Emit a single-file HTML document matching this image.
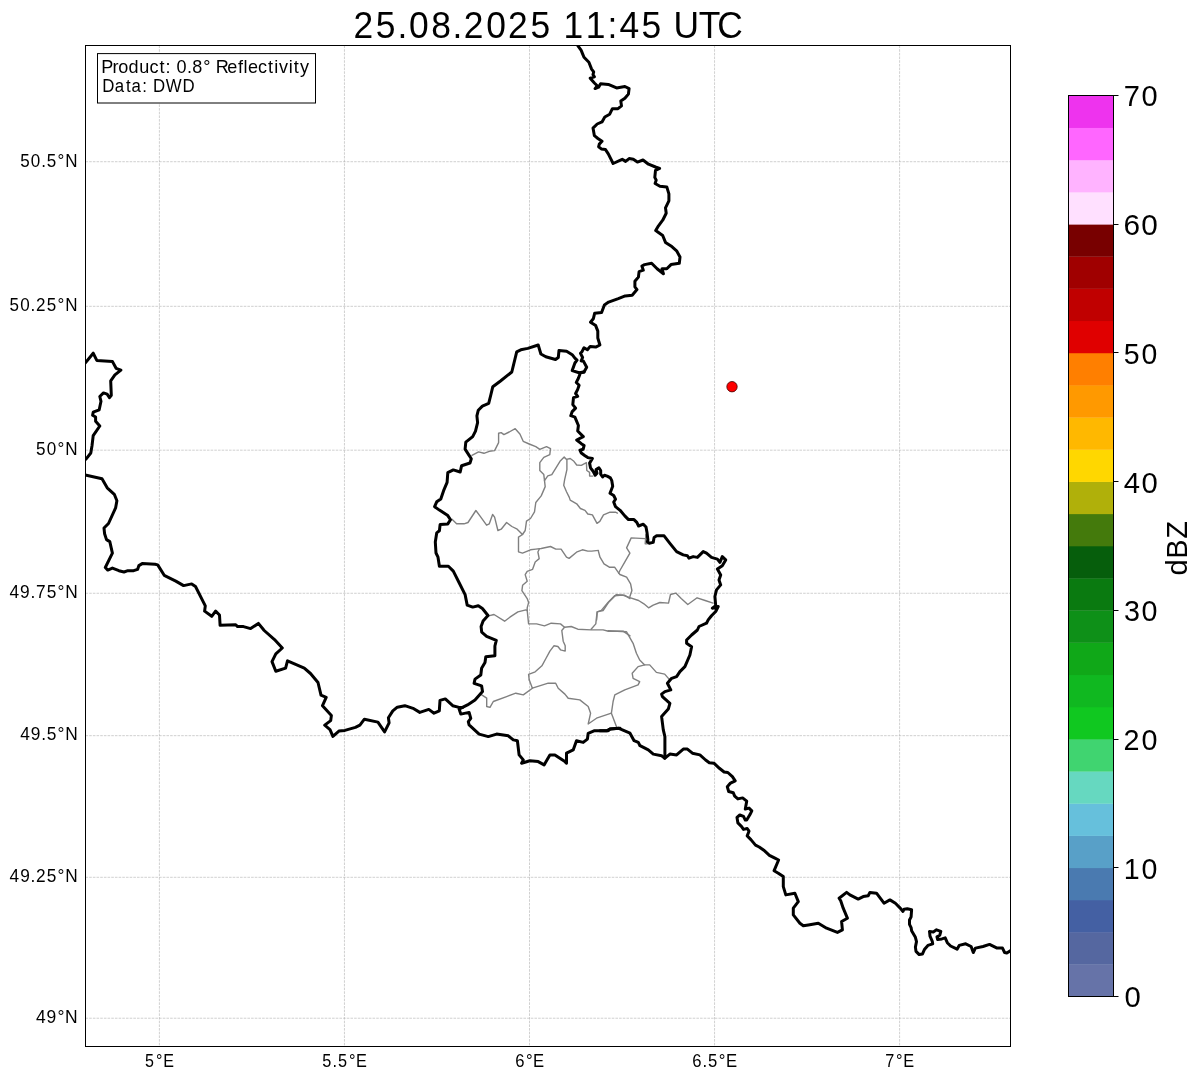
<!DOCTYPE html>
<html><head><meta charset="utf-8"><style>
html,body{margin:0;padding:0;background:#fff;}
svg{display:block;will-change:transform;}
text{font-family:"Liberation Sans",sans-serif;fill:#000;}
</style></head><body>
<svg width="1202" height="1081" viewBox="0 0 1202 1081">
<defs><clipPath id="ax"><rect x="85.5" y="45.4" width="925" height="1000.8"/></clipPath></defs>
<rect width="1202" height="1081" fill="#fff"/>
<g clip-path="url(#ax)">
<g stroke="#b0b0b0" stroke-width="0.6" stroke-dasharray="2.57 1.11" fill="none">
<line x1="85.5" y1="161.71" x2="1010.5" y2="161.71"/>
<line x1="85.5" y1="306.32" x2="1010.5" y2="306.32"/>
<line x1="85.5" y1="450.18" x2="1010.5" y2="450.18"/>
<line x1="85.5" y1="593.28" x2="1010.5" y2="593.28"/>
<line x1="85.5" y1="735.66" x2="1010.5" y2="735.66"/>
<line x1="85.5" y1="877.30" x2="1010.5" y2="877.30"/>
<line x1="85.5" y1="1018.23" x2="1010.5" y2="1018.23"/>
<line x1="159.40" y1="45.5" x2="159.40" y2="1046.2"/>
<line x1="344.45" y1="45.5" x2="344.45" y2="1046.2"/>
<line x1="529.50" y1="45.5" x2="529.50" y2="1046.2"/>
<line x1="714.55" y1="45.5" x2="714.55" y2="1046.2"/>
<line x1="899.60" y1="45.5" x2="899.60" y2="1046.2"/>
</g>
<g stroke="#808080" stroke-width="1.4" fill="none" stroke-linejoin="round" stroke-linecap="round">
<polyline points="471.9,455.3 478.6,451.9 483.9,453.3 489.3,451.3 494.6,450.6 498.6,442.6 498.6,433.3 501.2,432.6 503.9,434.6 509.2,432.0 515.2,428.7 519.9,434.0 523.2,441.3 529.2,444.0 535.8,446.6 539.8,449.3 546.5,446.6 550.5,448.6 549.8,454.6 543.8,457.3 539.8,462.6 539.8,470.6 543.8,474.6 544.5,480.6 545.2,486.6 541.2,495.9 535.8,502.5 534.5,511.8 530.5,518.5 526.5,521.2 525.2,530.5 522.5,534.5"/>
<polyline points="452.0,519.2 456.6,523.8 464.0,523.8 468.0,522.5 475.9,510.5 479.9,515.8 486.6,525.2 489.3,523.8 492.6,514.5 494.6,517.2 497.9,530.5 501.2,529.2 506.6,522.5 511.9,526.5 517.2,529.2 522.5,534.5 518.5,537.1 518.5,551.8 522.5,553.1 530.5,549.8 535.8,549.1 541.2,548.5 550.5,546.5 555.8,549.1 561.1,549.1 566.5,557.1 569.1,558.4 577.1,551.8 582.4,549.8 587.8,551.1 591.7,551.1 598.4,550.4"/>
<polyline points="645.9,534.6 645.2,543.9 647.2,543.9 645.2,538.6 631.2,537.9 626.6,547.9 629.9,553.2 625.3,561.2 619.9,570.5 618.6,573.2"/>
<polyline points="598.4,551.2 600.0,557.2 604.0,563.9 609.3,567.2 614.6,567.2 617.9,571.8 619.9,574.5 626.6,577.2 630.6,583.8 631.9,590.5 629.9,596.5"/>
<polyline points="596.6,620.0 597.3,611.8 601.3,610.4 608.0,602.5 614.6,595.8 622.6,595.1 630.6,597.8 638.6,600.5 643.9,603.8 648.6,607.8 653.2,605.1 659.9,602.5 668.5,603.1 670.5,594.5 675.8,593.1 681.2,598.5 687.8,604.5 697.1,597.8 705.1,600.5 713.1,603.1"/>
<polyline points="488.6,615.9 494.0,614.5 504.6,621.2 509.9,617.2 517.9,611.9 525.9,609.9 527.2,610.5"/>
<polyline points="539.2,549.3 537.9,552.0 539.2,558.6 535.2,562.0 532.6,569.3 527.2,571.3 525.2,574.6 527.2,581.3 522.6,585.3 521.9,590.6 527.2,598.6 528.6,602.6 527.2,607.9 527.2,610.5 528.6,623.9 536.6,623.9 544.5,625.9 551.2,623.2 560.5,623.9 564.5,627.2 571.2,626.5 577.8,629.2 591.1,629.9 603.1,629.9 608.4,631.2 623.1,631.2 630.0,635.8"/>
<polyline points="564.5,627.2 561.8,630.5 563.2,641.2 565.2,645.8 565.2,651.1 560.5,649.8 557.9,646.5 553.9,645.8 549.9,651.1 545.9,658.5 541.9,665.8 535.2,671.8 528.6,674.4 529.2,680.0"/>
<polyline points="591.1,629.2 595.8,623.9 597.1,611.9 603.1,610.5 608.4,602.6 616.4,594.6 624.4,595.2 630.0,598.6"/>
<polyline points="529.3,679.9 532.4,688.2 548.2,683.2 555.7,683.2 558.2,688.2 564.9,694.1 568.2,698.2 579.8,699.9 588.2,706.5 590.6,713.2 588.2,724.0 596.5,718.2 611.4,713.2 616.4,726.5"/>
<polyline points="532.4,688.2 523.3,694.9 515.8,693.2 506.6,696.6 493.3,701.5 490.0,707.4 486.7,706.5 486.7,698.2 481.7,694.9"/>
<polyline points="611.4,713.2 613.1,701.5 614.8,694.9 624.8,689.9 638.1,684.9 639.7,681.6 633.1,678.3 632.2,673.3 638.1,666.6 644.7,664.9 639.7,660.0 636.4,653.3 633.1,643.3 626.4,631.7 608.1,630.8"/>
<polyline points="644.7,664.9 649.7,664.9 656.4,672.4 664.7,674.1 669.7,679.9"/>
<polyline points="566.9,459.4 566.9,469.6 564.6,479.8 563.7,485.3 566.5,491.8 569.3,497.4 570.2,500.1 576.7,503.8 580.4,508.5 585.0,510.3 587.8,514.0 592.4,514.9 597.0,523.3 599.8,521.4 603.5,514.9 610.0,512.2 615.5,512.2 617.4,513.1"/>
<polyline points="544.5,480.6 547.8,475.9 551.8,474.6 560.0,461.3 564.2,457.1 566.5,459.4 570.2,458.5 573.9,461.3 576.7,465.0 581.3,465.4 586.4,462.7 586.8,470.5 589.6,472.4 589.6,476.1 592.8,476.1"/>
</g>
<g stroke="#000" stroke-width="3" fill="none" stroke-linejoin="round" stroke-linecap="round">
<polyline points="577.8,45.6 581.2,50.4 582.6,53.9 584.0,57.3 588.9,62.2 591.6,69.1 593.7,71.9 593.0,74.7 594.4,76.8 590.2,78.2 594.4,83.0 597.2,85.8 595.1,88.6 598.6,87.2 600.6,83.7 608.3,84.4 616.6,87.9 624.9,86.5 629.1,88.6 628.4,94.1 624.9,98.3 620.8,101.1 621.5,105.9 618.0,108.7 612.4,108.7 609.7,114.2 604.8,117.0 602.0,121.9 597.2,124.0 593.0,128.1 594.4,135.7 597.9,138.5 602.0,141.3 599.3,144.1 598.6,146.8 601.3,148.9 605.5,149.6 608.3,153.8 611.7,160.7 613.1,163.5 622.2,159.3 625.6,161.4 629.1,158.6 633.3,159.3 637.4,162.1 643.0,160.0 648.5,164.2 655.5,167.0 659.6,168.4 655.5,170.4 654.8,177.4 656.2,180.1 655.1,183.5 659.9,186.2 666.8,186.9 668.9,193.9 668.9,200.8 665.5,207.8 666.2,213.3 662.7,220.2 658.5,225.8 655.7,230.6 662.7,235.5 665.5,242.4 671.0,245.9 676.6,250.8 680.0,257.0 679.3,263.3 671.0,264.6 666.8,268.8 662.0,268.8 663.4,273.7 657.1,268.8 651.6,263.3 644.6,264.6 641.9,266.0 643.3,270.2 639.1,271.6 638.4,277.1 634.9,281.3 634.9,286.8 637.0,289.6 632.2,295.2 625.2,295.9 618.3,298.6 608.6,302.1 604.4,304.9 601.6,312.5 594.7,313.2 593.3,318.8 590.5,322.2 595.7,325.6 597.8,331.1 597.8,338.0 599.9,345.0 595.7,347.1 590.2,346.4 587.4,349.8 584.0,347.8 581.9,351.9 580.5,353.3 582.6,357.5 581.2,360.9 583.3,360.9 586.7,367.2 584.0,372.0 580.5,372.7 578.4,378.3 576.3,382.4 579.1,385.2 577.7,389.4 575.6,393.5 577.7,396.3 573.5,397.7 572.8,404.6 575.6,408.1 572.2,411.6 570.8,415.7 574.9,417.1 578.4,425.5 577.7,431.0 583.3,436.6 576.7,440.0 581.3,443.7 584.1,445.6 583.1,449.3 579.9,450.2 581.3,453.0 585.0,455.7 587.8,457.6 592.4,458.5 589.6,463.1 590.5,467.8 593.3,471.5 595.2,475.2 597.0,473.3 596.1,469.6 598.9,467.8 600.7,470.5 600.7,474.2 602.6,477.0 604.4,475.2 607.2,476.1 610.4,477.9 611.8,480.7 612.7,486.3 610.0,493.2 613.7,495.5 615.5,499.2 613.7,502.0 615.5,506.6 620.1,510.3 624.8,515.9 628.5,519.6 634.0,519.6 636.8,522.3 638.6,526.0 643.3,524.2 646.0,527.0 647.0,532.5 647.9,540.0 647.4,541.6 649.1,543.3 653.2,542.4 654.1,537.4 656.6,535.8 664.1,535.8 669.9,543.3 676.6,551.6 683.2,554.9 687.4,555.7 689.0,558.2 693.2,556.6 697.4,557.4 703.2,551.6 706.5,553.2 711.5,557.4 717.4,559.1 719.9,562.4 722.3,556.6 725.7,559.9 722.3,565.7 717.4,569.1 720.7,574.9 719.0,579.9 720.7,584.9 716.5,589.9 714.9,596.5 715.7,605.7 712.4,608.2 718.2,606.5 715.7,611.5 711.5,615.7 708.2,619.9 706.5,623.2 699.0,626.5 697.4,630.0 691.6,635.0 686.6,640.0 686.6,643.3 691.6,646.7 689.9,655.0 684.9,666.6 679.9,671.6 676.6,676.6 671.6,678.3 667.4,683.3 670.8,689.9 664.9,691.6 661.6,694.1 662.4,696.6 669.9,703.3 668.3,709.1 661.6,716.6 663.3,729.9 664.9,736.6 664.9,758.2 669.9,754.1 676.6,754.9 683.3,749.1 687.4,749.1 692.4,753.2 699.9,754.9 705.6,760.0 709.3,762.8 713.9,763.2 719.4,768.3 724.1,772.0 727.8,772.5 732.4,776.7 735.2,780.8 730.5,783.1 727.3,786.8 728.7,791.5 733.3,792.8 734.7,796.1 737.9,798.9 742.6,797.9 746.7,801.2 745.3,809.0 749.0,808.1 751.8,810.9 750.0,814.6 746.7,820.1 745.3,820.1 743.5,816.4 739.8,815.0 737.0,817.4 737.9,822.9 741.6,826.6 743.5,829.4 747.2,828.5 749.0,831.2 747.2,835.9 750.9,839.6 755.5,845.1 759.2,847.0 763.8,850.2 769.4,855.3 774.9,858.1 778.6,860.0 774.1,870.7 778.3,873.2 783.3,876.6 783.3,886.6 785.8,894.9 794.9,893.2 798.3,901.6 793.3,908.2 793.3,914.9 799.9,923.2 803.3,925.7 808.3,924.9 818.3,923.2 826.6,928.2 837.4,932.4 842.4,929.9 841.6,921.5 847.4,918.2 843.2,908.2 840.7,900.7 839.1,898.2 846.6,892.4 849.9,894.9 858.2,899.1 863.2,896.6 868.2,895.7 869.9,892.4 876.5,893.2 884.0,903.2 889.9,899.9 895.4,903.3 899.7,907.6 903.0,911.4 904.1,909.2 907.3,908.7 911.6,909.7 911.1,916.8 909.5,920.0 909.5,924.3 911.1,927.6 911.6,930.8 915.4,937.3 916.5,941.6 915.4,947.1 916.0,951.4 919.2,954.6 922.4,954.1 924.6,949.2 927.9,945.4 932.7,943.8 932.2,941.1 930.0,936.2 929.5,931.4 933.3,931.9 936.5,929.8 940.8,931.4 939.8,935.2 937.0,936.8 937.6,939.5 941.9,938.9 945.2,937.9 947.3,942.7 950.6,946.0 957.1,949.2 959.2,945.4 965.7,943.8 971.1,946.5 973.3,952.5 975.4,948.1 983.0,946.5 989.5,944.4 997.1,948.1 1002.5,948.1 1004.6,952.5 1006.8,953.0 1011.1,950.3"/>
<polyline points="584.0,372.0 579.1,372.7 572.2,370.6 574.9,363.0 577.0,360.2 574.9,358.2 572.2,354.7 566.6,351.2 559.0,350.5 558.3,357.5 555.5,359.5 545.8,356.8 540.9,354.0 538.2,345.0 527.8,348.4 520.8,349.8 516.7,351.9 511.8,372.0 500.5,381.0 492.8,386.7 490.8,395.0 488.7,403.3 482.4,406.1 478.3,410.2 476.9,415.8 477.6,422.7 475.5,431.1 472.7,436.6 465.8,442.2 465.1,449.1 468.6,454.6 471.3,458.8 470.0,463.0 461.6,465.7 460.2,472.0 453.3,469.9 447.8,472.7 447.1,482.4 443.6,490.7 440.8,499.0 436.7,501.8 434.6,506.7 439.4,510.1 447.8,515.6 450.5,519.7 447.8,523.9 440.1,524.6 439.4,530.8 436.7,532.9 435.3,541.9 436.0,553.0 438.0,557.2 439.4,566.2 448.4,566.2 453.3,571.1 458.9,582.2 465.1,594.6 467.2,605.1 472.7,607.1 478.3,605.7 482.4,608.5 488.0,615.5 483.1,621.0 481.1,626.6 481.7,632.1 486.6,636.3 496.3,640.4 494.9,646.0 494.9,655.7 485.8,656.7 485.0,662.5 481.6,668.3 480.8,675.0 475.0,679.1 474.1,683.3 481.6,685.8 482.5,691.6 475.0,700.0 467.5,704.9 462.5,707.4 459.1,709.1 460.8,714.1 469.1,712.4 470.8,718.3 468.3,721.6 469.1,724.9 479.1,734.1 488.3,736.6 496.6,734.1 508.3,735.8 513.3,739.9 517.4,740.7 519.1,754.9 523.3,759.9 521.6,763.2 529.9,760.7 538.2,761.6 544.1,764.9 549.9,754.9 554.9,754.9 564.9,761.6 566.5,763.2 566.5,753.2 573.2,749.9 576.5,740.7 583.2,742.4 587.4,739.1 588.2,733.3 594.0,730.8 606.5,730.8 609.8,729.1 620.0,728.3"/>
<polyline points="600.0,730.7 608.3,730.7 610.0,729.1 618.3,728.2 630.0,733.2 634.1,740.7 638.3,742.4 640.0,745.7 648.3,749.9 653.3,754.1 661.6,755.7 664.9,758.2"/>
<polyline points="462.5,707.4 459.1,707.4 452.7,705.7 445.3,698.9 440.0,700.4 439.3,710.9 434.0,713.2 428.8,709.4 419.8,712.4 413.8,708.7 404.8,705.7 397.3,707.2 392.8,710.9 388.4,717.7 389.1,722.9 384.6,731.9 377.9,722.1 364.4,719.2 359.9,725.1 355.4,727.4 344.9,730.4 338.9,731.1 332.9,736.4 330.0,729.6 324.7,725.1 330.7,720.6 331.4,715.4 322.5,705.7 326.2,697.4 321.0,695.2 318.0,682.5 310.5,673.5 304.3,668.1 287.5,660.9 285.6,668.1 275.8,671.3 272.0,661.6 275.8,653.8 282.3,648.0 274.5,639.6 264.2,630.5 258.4,623.4 250.6,628.6 243.5,626.6 237.6,626.6 235.7,624.7 220.1,625.3 219.5,615.0 215.6,611.1 211.7,616.3 204.6,611.1 205.3,605.9 195.5,586.5 191.7,583.9 183.6,585.6 175.8,581.1 164.2,575.3 157.7,564.9 155.1,564.3 142.2,563.6 138.9,565.6 137.6,569.4 133.7,570.7 127.9,570.7 124.0,572.0 118.9,570.7 112.4,568.1 107.8,570.1 105.3,567.5 112.4,553.2 109.8,541.6 106.5,539.6 104.6,533.8 104.0,528.0 108.5,523.5 115.6,507.9 116.9,500.8 114.3,494.3 107.2,487.8 102.0,478.8 85.2,474.9"/>
<polyline points="85.4,362.8 93.2,353.2 96.8,360.4 112.5,361.6 116.1,368.3 120.9,370.1 114.9,374.9 110.7,380.9 111.3,395.3 109.5,397.7 107.1,394.1 103.5,392.9 99.8,396.5 101.0,401.3 99.2,409.8 93.2,412.2 92.6,415.2 95.6,417.0 95.6,421.2 99.8,426.0 93.2,435.6 92.0,445.8 90.8,453.0 86.0,459.1"/>
</g>
<circle cx="732" cy="386.7" r="5.2" fill="#ff0000" stroke="#400000" stroke-width="0.8"/>
</g>
<rect x="97.5" y="53.6" width="218" height="49.4" fill="#fff" stroke="#000" stroke-width="1"/>
<text x="99.00 109.95 115.66 125.72 136.12 146.11 155.90 161.86 166.77 172.51 182.73 188.08 198.71 205.78 211.03 222.21 232.72 238.15 242.50 252.27 262.06 268.05 272.68 282.22 287.15 293.24" y="73.00" font-size="17.67" transform="scale(1.0228,1)">Product: 0.8° Reflectivity</text>
<text x="107.44 120.34 132.18 137.92 149.30 154.21 160.66 174.05 191.43" y="92.40" font-size="17.67" transform="scale(0.9528,1)">Data: DWD</text>
<rect x="85.5" y="45.5" width="925" height="1001" fill="none" stroke="#000" stroke-width="1"/>
<text x="368.91 392.28 414.81 426.99 450.09 472.45 484.19 507.69 530.31 553.68 574.23 588.25 611.31 634.22 646.74 669.65 690.20 703.05 729.46 748.83" y="38.00" font-size="36.95" transform="scale(0.9580,1)">25.08.2025 11:45 UTC</text>
<g>
<text x="21.05 32.15 42.89 48.65 59.97 67.94" y="166.56" font-size="17.73" transform="scale(0.9604,1)">50.5°N</text>
<text x="10.02 21.13 31.87 37.49 48.69 60.02 67.99" y="311.17" font-size="17.73" transform="scale(0.9597,1)">50.25°N</text>
<text x="37.43 48.49 59.70 67.63" y="455.03" font-size="17.73" transform="scale(0.9645,1)">50°N</text>
<text x="9.83 20.61 31.27 36.93 47.74 58.90 66.68" y="598.13" font-size="17.73" transform="scale(0.9769,1)">49.75°N</text>
<text x="20.67 31.45 42.09 47.71 58.86 66.64" y="740.51" font-size="17.73" transform="scale(0.9776,1)">49.5°N</text>
<text x="9.87 20.69 31.37 36.87 47.90 59.08 66.90" y="882.15" font-size="17.73" transform="scale(0.9741,1)">49.25°N</text>
<text x="36.53 47.21 58.26 65.94" y="1023.08" font-size="17.73" transform="scale(0.9870,1)">49°N</text>
</g>
<g>
<text x="160.15 172.07 180.06" y="1067.00" font-size="17.73" transform="scale(0.9062,1)">5°E</text>
<text x="350.61 361.78 367.91 379.69 387.53" y="1067.00" font-size="17.73" transform="scale(0.9189,1)">5.5°E</text>
<text x="549.09 560.56 568.19" y="1067.00" font-size="17.73" transform="scale(0.9382,1)">6°E</text>
<text x="735.54 746.42 752.35 763.87 771.47" y="1067.00" font-size="17.73" transform="scale(0.9411,1)">6.5°E</text>
<text x="962.31 974.03 981.86" y="1067.00" font-size="17.73" transform="scale(0.9200,1)">7°E</text>
</g>
<rect x="1068.5" y="964.32" width="45.00" height="32.48" fill="#6673a8"/>
<rect x="1068.5" y="932.14" width="45.00" height="32.48" fill="#5567a0"/>
<rect x="1068.5" y="899.96" width="45.00" height="32.48" fill="#4460a3"/>
<rect x="1068.5" y="867.79" width="45.00" height="32.48" fill="#4a7ab0"/>
<rect x="1068.5" y="835.61" width="45.00" height="32.48" fill="#58a0c8"/>
<rect x="1068.5" y="803.43" width="45.00" height="32.48" fill="#66c0dc"/>
<rect x="1068.5" y="771.25" width="45.00" height="32.48" fill="#66d8c0"/>
<rect x="1068.5" y="739.07" width="45.00" height="32.48" fill="#40d470"/>
<rect x="1068.5" y="706.89" width="45.00" height="32.48" fill="#10c820"/>
<rect x="1068.5" y="674.71" width="45.00" height="32.48" fill="#10b820"/>
<rect x="1068.5" y="642.54" width="45.00" height="32.48" fill="#10a818"/>
<rect x="1068.5" y="610.36" width="45.00" height="32.48" fill="#0e9018"/>
<rect x="1068.5" y="578.18" width="45.00" height="32.48" fill="#0a7a10"/>
<rect x="1068.5" y="546.00" width="45.00" height="32.48" fill="#065e0c"/>
<rect x="1068.5" y="513.82" width="45.00" height="32.48" fill="#447a0c"/>
<rect x="1068.5" y="481.64" width="45.00" height="32.48" fill="#b0b00a"/>
<rect x="1068.5" y="449.46" width="45.00" height="32.48" fill="#ffd700"/>
<rect x="1068.5" y="417.29" width="45.00" height="32.48" fill="#ffb800"/>
<rect x="1068.5" y="385.11" width="45.00" height="32.48" fill="#ff9900"/>
<rect x="1068.5" y="352.93" width="45.00" height="32.48" fill="#ff7f00"/>
<rect x="1068.5" y="320.75" width="45.00" height="32.48" fill="#e00000"/>
<rect x="1068.5" y="288.57" width="45.00" height="32.48" fill="#c00000"/>
<rect x="1068.5" y="256.39" width="45.00" height="32.48" fill="#a00000"/>
<rect x="1068.5" y="224.21" width="45.00" height="32.48" fill="#780000"/>
<rect x="1068.5" y="192.04" width="45.00" height="32.48" fill="#ffe0ff"/>
<rect x="1068.5" y="159.86" width="45.00" height="32.48" fill="#ffb3ff"/>
<rect x="1068.5" y="127.68" width="45.00" height="32.48" fill="#ff66ff"/>
<rect x="1068.5" y="95.50" width="45.00" height="32.48" fill="#ee33ee"/>
<rect x="1068.5" y="95.5" width="45.00" height="901.00" fill="none" stroke="#000" stroke-width="1"/>
<g stroke="#000" stroke-width="1">
<line x1="1113.5" y1="996.50" x2="1118.5" y2="996.50"/>
<line x1="1113.5" y1="867.50" x2="1118.5" y2="867.50"/>
<line x1="1113.5" y1="739.50" x2="1118.5" y2="739.50"/>
<line x1="1113.5" y1="610.50" x2="1118.5" y2="610.50"/>
<line x1="1113.5" y1="481.50" x2="1118.5" y2="481.50"/>
<line x1="1113.5" y1="352.50" x2="1118.5" y2="352.50"/>
<line x1="1113.5" y1="224.50" x2="1118.5" y2="224.50"/>
<line x1="1113.5" y1="95.50" x2="1118.5" y2="95.50"/>
</g>
<g>
<text x="1133.97" y="1007.40" font-size="29.56" transform="scale(0.9916,1)">0</text>
<text x="1160.36 1178.72" y="878.69" font-size="29.56" transform="scale(0.9685,1)">10</text>
<text x="1153.41 1171.90" y="749.97" font-size="29.56" transform="scale(0.9741,1)">20</text>
<text x="1158.19 1176.34" y="621.26" font-size="29.56" transform="scale(0.9704,1)">30</text>
<text x="1135.13 1152.97" y="492.54" font-size="29.56" transform="scale(0.9900,1)">40</text>
<text x="1167.74 1186.20" y="363.83" font-size="29.56" transform="scale(0.9624,1)">50</text>
<text x="1115.89 1133.41" y="235.11" font-size="29.56" transform="scale(1.0069,1)">60</text>
<text x="1143.52 1161.55" y="106.40" font-size="29.56" transform="scale(0.9827,1)">70</text>
</g>
<g transform="translate(1187,1096.2) rotate(-90)"><text x="521.52 538.40 558.34" y="0.00" font-size="29.12" transform="scale(0.9983,1)">dBZ</text></g>
</svg>
</body></html>
